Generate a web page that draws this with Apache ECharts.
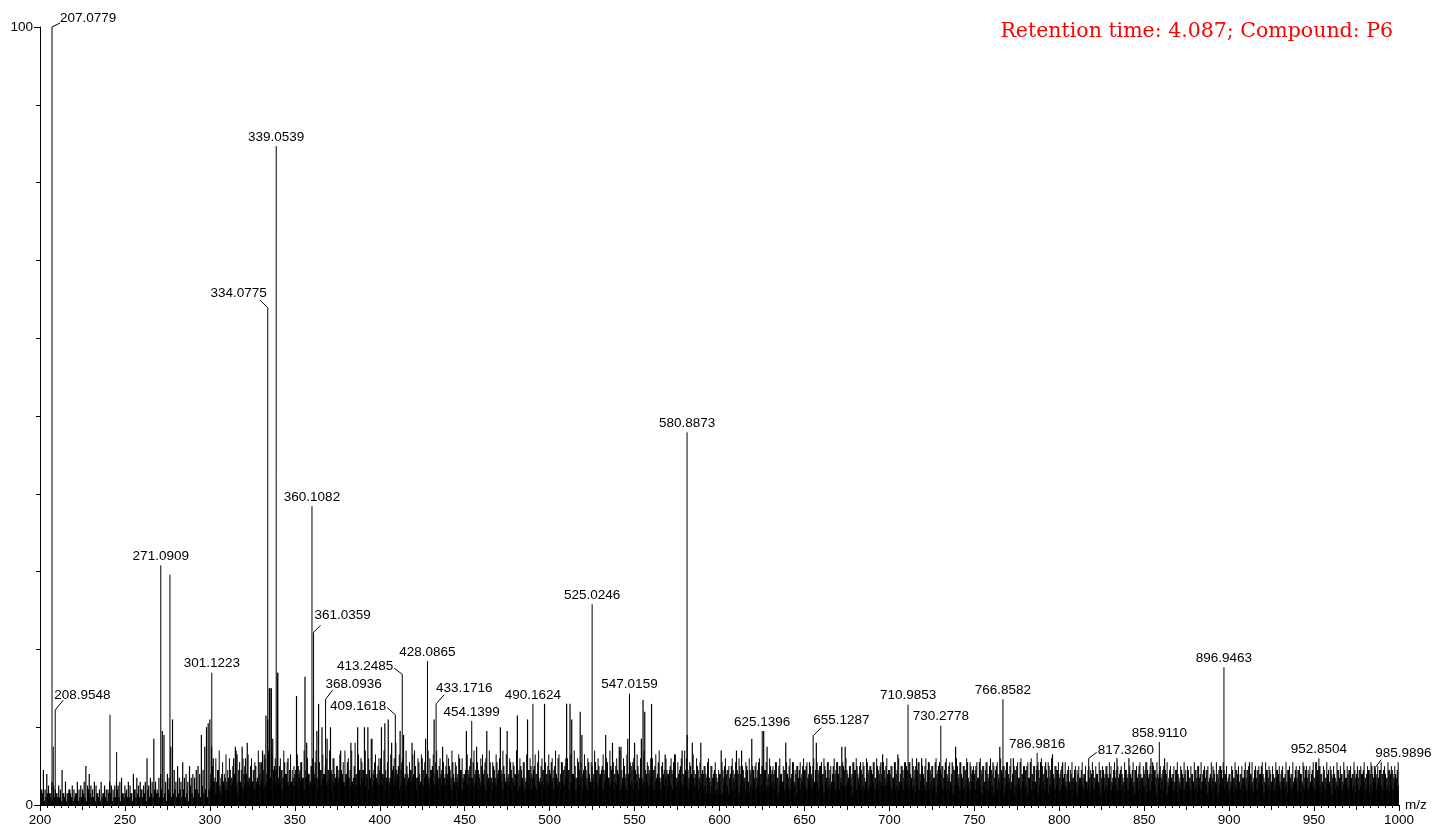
<!DOCTYPE html>
<html><head><meta charset="utf-8">
<script src="https://cdn.jsdelivr.net/npm/echarts@6/dist/echarts.min.js"></script>
<style>html,body{margin:0;padding:0;background:#fff}#c{width:1433px;height:829px}</style>
</head><body><div id="c"></div>
<script>
// ---------------- DATA ----------------
const titleText = 'Retention time: 4.087; Compound: P6';
const xTitle = 'm/z';
const yTitle = '%';

// labelled peaks (m/z, relative intensity %)
const peakLabels = ['207.0779','208.9548','271.0909','301.1223','334.0775','339.0539','360.1082','361.0359','368.0936','409.1618','413.2485','428.0865','433.1716','454.1399','490.1624','525.0246','547.0159','580.8873','625.1396','655.1287','710.9853','730.2778','766.8582','786.9816','817.3260','858.9110','896.9463','952.8504','985.9896'];
const peakMz = [207.0779,208.9548,271.0909,301.1223,334.0775,339.0539,360.1082,361.0359,368.0936,409.1618,413.2485,428.0865,433.1716,454.1399,490.1624,525.0246,547.0159,580.8873,625.1396,655.1287,710.9853,730.2778,766.8582,786.9816,817.3260,858.9110,896.9463,952.8504,985.9896];
const peakIntensity = [100,12.2,30.8,17.0,63.9,84.7,38.4,22.2,13.6,11.6,16.8,18.5,13.0,10.8,13.0,25.8,14.3,47.9,9.5,8.9,12.9,10.2,13.6,6.7,6.0,8.1,17.7,6.0,4.8];

// unlabelled larger peaks
const extraMz = [207.8,241.2,245.1,276.5,335.2,336.2,339.7];
const extraIntensity = [7.5,11.6,6.8,29.6,15.0,15.0,17.0];

// background noise read per m/z unit, heights in 0.5 % steps (base-36 digit), one chunk per 50 m/z
const spikeChunks = [
 '3494853654 3549363435 4364546a58 5465346354 4654565673',
 '5465384756 456c576h64 78ji687fm9 6a76b786a7 879a8i9fkl',
 'mfc7695867 6797cfd96f 8cg7a69a7b bednmuuha9 ya97b8c967',
 '8sa9b7xg86 a9bjq9k8ah 9k8c7a9e86 8b7g6a8k9c 9k8k9h8b7a',
 '9k8l7m6ga8 9ajbi8a79g 8a7b6c9h87 9amb9a8f7a 8a7b6a8c97',
 '8j9a7b8f96 a8bj7b6a7b 9k8a6j8b7a 8n9a7b6m9a 7a8b6a9q8a',
 '9b7a8c6b9a q9qm8a7boi 9a7b6a8b9a 8a9ib7ag8a 9ff7a8h7ab',
 'g8a7hro8a9 q9a7b6a8d9 8a9bd78ae8 9i7ag98a7g 9a8b7a7986',
 '8e9a897a98 e8ae97a69h 9a7b8aj9f8 a98b7a869g 8a7b68a97a',
 '9a7b8a6g9a b8a7b96a8b 8afaf97a8b 9a7b8a6b9a 8b7a8bd9a8',
 '9a7b8d6a9b a9b7a9cb8c 8a6b9a7b8a 9a7b8a6b9f a8b7a9b6a9',
 '8a7b9a6b8a 9b7a8f9a7b 8a6c9a7b8a 9a7b8a6a9b a8b7a9d7a9',
 '79b8696879 6879786978 97869798a7 8697c79869 7c89697a87',
 '8b98cb9789 79c8697869 8697869786 97a8697968 79689a7986',
 '8697986879 79b869798a 8697968798 6978697869 7986a97869',
 '7b9a869786 9786978697 8978987989 7898a79879 8987989789'
];
// second noise trace between the unit positions, m/z 300-1000
const midChunks = [
 '8a6c9e7b8d 9c7a8e6b9c a8d7c9b6e8 b9c8e7d9ca 7c9e8b6d9a',
 '9d8b7e9c8a c8e7b9d8c9 e9c8a7d9be 8c9e7g8d9b 9e8c7h9d8c',
 'c8e9b7d9cg 8d9c7e8b9d e7c8d9b8ec 9d8e7c9b8d c9e8b7d9c8',
 '9d8c7e9b8c d9c8e7b9d8 c9e8d7c9b8 e8c9b7d9c8 9d8e7c9b8d',
 '8c9e7d8b9c c9d8e7c9b8 d9c8b7e9c8 9d8c7e9b8c 8e9c7d8b9c',
 '9d8c7e9b8c c9d8e7b9c8 9c8d7b9c8e c9b8d7c9b8 8a7c6a8b79',
 '8b7c9a8c7b 9c8a7b9c8a 7b9c8a9b7c 8a9b7c8a9b 7c8b9a7b8c',
 '9b8a7c9b8a 8c9b7a8c9b a7b9c8a7b9 c8a9b7c8a9 b7c9a8b7c9',
 '8a7b9c8a7b 9b8c7a9b8a 7c9b8a7c9b 8a9c7b8a9c 7b8a9c7b8a',
 '9b7c8a9b7c 8a9b7c8a9b 7c8a9b7c8a 9b7c8a9b7c 8a9b7c8a9b',
 '8a7b8a9b7a 9a7b8a6a9b 7a8b9a7a8b a7b9a8a7b9 8a7b9a8b7a',
 '9b7a8a9b7a 8a9b7a8a9b 7a8b9a7a8b 9a7b8a9a7b a8b7a9b8a7',
 '8a7b9a8a7b 9a8b7a9a8b 7b9a8a7b9a 8a7b9a8b7a 9a8b7a9a8b',
 '7b9a8a7b9a 8a7b9a8b7a 9a8b7a9a8b 7a9b8a7a9b 8a7b9a8a7b'
];
const floorChunks = [
 '2312332123 2213213421 2312232143 2213212321 3312242132',
 '3223142324 2314232433 2423143234 2342423153 2443253424',
 '5463543654 4356453654 5465364565 6456574656 5647565465',
 '6576547656 5674657656 7465767565 6756475657 6574656765',
 '6574657656 7456756567 6475657465 7656475657 6547565746',
 '6574656475 6546574657 5647565465 7456546574 6547565465',
 '5647564657 5465746574 6547564657 5464756465 7456547564',
 '5647564657 5465746574 6547564657 5464756465 4534354343',
 '4354535464 5354645354 6453546454 5645354645 5464535465',
 '5465454645 5364545645 4654564535 4654546454 6454654564',
 '5464545645 5464535464 5454645354 6454645354 5464535464',
 '4645354645 5354645354 6453545464 5354645354 6453546453',
 '4535454645 3545464535 4645354546 4535464535 4645354645',
 '5354645354 6453546453 5464535464 5354645354 6453546453',
 '4535464535 4645354645 3545464535 4645354546 4535464535',
 '4645354645 3545464535 4645354546 4535464535 4645354645'
];

// ---------------- BUILD ----------------
function decodeChunks(chunks, start, shift) {
  const out = [];
  chunks.forEach((s, k) => {
    const t = s.replace(/\s/g, '');
    const step = 50 / t.length;
    for (let j = 0; j < t.length; j++) {
      out.push([start + 50 * k + j * step + shift, parseInt(t[j], 36) * 0.5]);
    }
  });
  return out;
}
const floorData = decodeChunks(floorChunks, 200, 0.5);
const spikeData = decodeChunks(spikeChunks, 200, 0);
const midData = decodeChunks(midChunks, 300, 0.5);
const extraData = extraMz.map((m, i) => [m, extraIntensity[i]]);
const labelData = peakMz.map((m, i) => [m, peakIntensity[i], peakLabels[i]]);

const labelPlacement = {
  '207.0779': {align: 'left', tx: 8, ty: -9, lead: [8, -4]},
  '208.9548': {align: 'left', tx: -1, ty: -15, lead: [8, -10]},
  '334.0775': {align: 'right', tx: -1, ty: -15, lead: [-8, -8]},
  '361.0359': {align: 'left', tx: 1, ty: -17, lead: [7, -7]},
  '368.0936': {align: 'left', tx: 0, ty: -15, lead: [7, -9]},
  '409.1618': {align: 'right', tx: -9, ty: -8, lead: [-8, -7]},
  '413.2485': {align: 'right', tx: -9, ty: -8, lead: [-8, -6]},
  '433.1716': {align: 'left', tx: 0, ty: -16, lead: [8, -9]},
  '655.1287': {align: 'left', tx: 0, ty: -15, lead: [8, -8]},
  '817.3260': {align: 'left', tx: 9, ty: -8, lead: [8, -6]},
  '985.9896': {align: 'left', tx: 0, ty: -14, lead: [6, -8]}
};
const defaultPlacement = {align: 'center', tx: 0, ty: -9};
const FONT = 'Liberation Sans, Arial, sans-serif';

function makeStick(width) {
  return function (params, api) {
    const m = api.value(0), h = api.value(1);
    const b = api.coord([m, 0]), t = api.coord([m, h]);
    return {type: 'line', shape: {x1: b[0], y1: b[1], x2: t[0], y2: t[1]},
            style: {stroke: '#000', lineWidth: width}};
  };
}
function labelRender(params, api) {
  const m = api.value(0), h = api.value(1);
  const txt = labelData[params.dataIndex][2];
  const b = api.coord([m, 0]), t = api.coord([m, h]);
  const p = labelPlacement[txt] || defaultPlacement;
  const children = [{type: 'line', shape: {x1: b[0], y1: b[1], x2: t[0], y2: t[1]},
                     style: {stroke: '#000', lineWidth: 1}}];
  if (p.lead) {
    children.push({type: 'line', shape: {x1: t[0], y1: t[1], x2: t[0] + p.lead[0], y2: t[1] + p.lead[1]},
                   style: {stroke: '#000', lineWidth: 1}});
  }
  children.push({type: 'text', x: t[0] + p.tx, y: t[1] + p.ty,
                 style: {text: txt, fill: '#000', fontSize: 13.5, fontFamily: FONT,
                         align: p.align, verticalAlign: 'middle'}});
  return {type: 'group', children};
}

const chart = echarts.init(document.getElementById('c'), null, {renderer: 'canvas'});
chart.setOption({
  animation: false,
  backgroundColor: '#fff',
  title: {text: titleText, right: 40, top: 21, padding: 0,
          textStyle: {fontFamily: 'DejaVu Serif', fontSize: 20.5, fontWeight: 'normal', color: '#f00'}},
  grid: {left: 40, right: 34, top: 27, bottom: 24, containLabel: false, outerBoundsMode: 'none'},
  xAxis: [{
    type: 'value', min: 200, max: 1000, interval: 50, position: 'bottom',
    name: xTitle, nameLocation: 'end', nameGap: 6,
    nameTextStyle: {color: '#000', fontSize: 13.5, fontFamily: FONT, align: 'left', verticalAlign: 'middle', padding: [8, 0, 0, 0]},
    axisLine: {show: true, onZero: false, lineStyle: {color: '#000', width: 1}},
    axisTick: {show: true, inside: false, length: 6, lineStyle: {color: '#000'}},
    minorTick: {show: true, splitNumber: 12, length: 3, lineStyle: {color: '#000'}},
    axisLabel: {color: '#000', fontSize: 13.5, fontFamily: FONT, margin: 8, formatter: v => String(v)},
    splitLine: {show: false}, minorSplitLine: {show: false}
  }, {
    type: 'value', min: 200, max: 1000, interval: 25, position: 'bottom',
    axisLine: {show: false},
    axisTick: {show: true, inside: false, length: 5, lineStyle: {color: '#000'}},
    axisLabel: {show: false}, splitLine: {show: false}
  }],
  yAxis: {
    type: 'value', min: 0, max: 100, interval: 100,
    name: yTitle, nameLocation: 'middle', nameGap: 7, nameRotate: 90,
    nameTextStyle: {color: '#000', fontSize: 13.5, fontFamily: FONT},
    axisLine: {show: true, lineStyle: {color: '#000', width: 1}},
    axisTick: {show: true, length: 6, lineStyle: {color: '#000'}},
    minorTick: {show: true, splitNumber: 10, length: 4, lineStyle: {color: '#000'}},
    axisLabel: {color: '#000', fontSize: 13.5, fontFamily: FONT, margin: 7},
    splitLine: {show: false}, minorSplitLine: {show: false}
  },
  series: [
    {type: 'custom', name: 'mid', renderItem: makeStick(1), data: midData, clip: true, silent: true, z: 1},
    {type: 'custom', name: 'floor', renderItem: makeStick(1.4), data: floorData, clip: true, silent: true, z: 1},
    {type: 'custom', name: 'noise', renderItem: makeStick(1.2), data: spikeData, clip: true, silent: true, z: 2},
    {type: 'custom', name: 'extra', renderItem: makeStick(1), data: extraData, clip: true, silent: true, z: 3},
    {type: 'custom', name: 'peaks', renderItem: labelRender, data: labelData.map(d => [d[0], d[1]]), clip: false, silent: true, z: 4}
  ]
});
</script>
</body></html>
